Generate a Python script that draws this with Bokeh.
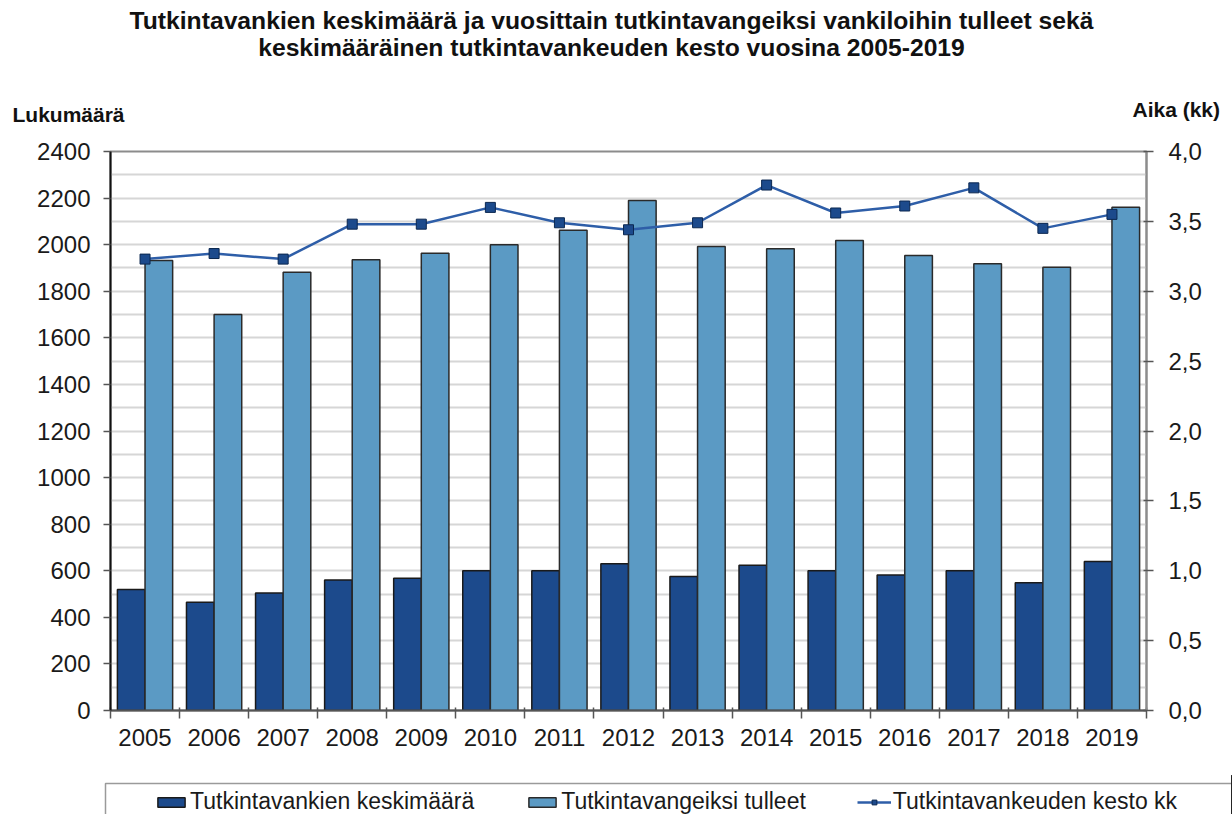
from bokeh.plotting import figure
from bokeh.layouts import column
from bokeh.models import (Range1d, LinearAxis, FixedTicker, SingleIntervalTicker, Plot,
                          CustomJSTickFormatter, Legend, LegendItem, ColumnDataSource)
from bokeh.transform import dodge
from bokeh.core.properties import value
from bokeh.embed import file_html
from bokeh.resources import INLINE

# ---- data ----
years = list(range(2005, 2020))
avg_remand = [520, 465, 504, 560, 568, 600, 600, 630, 575, 624, 600, 582, 600, 548, 640]
new_remand = [1932, 1700, 1882, 1935, 1963, 2000, 2062, 2190, 1992, 1982, 2018, 1954, 1918, 1903, 2161]
duration_kk = [3.23, 3.27, 3.23, 3.48, 3.48, 3.60, 3.49, 3.44, 3.49, 3.76, 3.56, 3.61, 3.74, 3.45, 3.55]
left_ticks = [0, 200, 400, 600, 800, 1000, 1200, 1400, 1600, 1800, 2000, 2200, 2400]
right_ticks = [0.0, 0.5, 1.0, 1.5, 2.0, 2.5, 3.0, 3.5, 4.0]
series_names = ["Tutkintavankien keskimäärä", "Tutkintavangeiksi tulleet", "Tutkintavankeuden kesto kk"]
title_lines = ["Tutkintavankien keskimäärä ja vuosittain tutkintavangeiksi vankiloihin tulleet sekä",
               "keskimääräinen tutkintavankeuden kesto vuosina 2005-2019"]
left_title = "Lukumäärä"
right_title = "Aika (kk)"

FONT = "Liberation Sans"
DARK = "#1c4a8c"
LIGHT = "#5b9ac4"
LINE = "#2e5ea8"
W = 1232
HAS_ALIGN = "frame_align" in Plot.properties()


def no_align(fig):
    if HAS_ALIGN:
        fig.frame_align = False


src = ColumnDataSource(dict(year=years, avg=avg_remand, new=new_remand, dur=duration_kk))

# ---------------- header (titles) ----------------
TOP_H = 126
top = figure(width=W, height=TOP_H, x_range=Range1d(0, W), y_range=Range1d(TOP_H, 0),
             x_axis_location=None, y_axis_location=None, output_backend="svg",
             toolbar_location=None, min_border=0)
no_align(top)
top.grid.visible = False
top.outline_line_color = None
top.text(x=[611, 611], y=[20, 47], text=title_lines, text_align="center",
         text_baseline="middle", text_font=value(FONT), text_font_size="24.7px",
         text_font_style="bold", text_color="#111111")
top.text(x=[12], y=[113.5], text=[left_title], text_align="left", text_baseline="middle",
         text_font=value(FONT), text_font_size="21px", text_font_style="bold", text_color="#111111")
top.text(x=[1132], y=[108.5], text=[right_title], text_align="left", text_baseline="middle",
         text_font=value(FONT), text_font_size="21px", text_font_style="bold", text_color="#111111")

# ---------------- main chart ----------------
MAIN_H = 775 - TOP_H
p = figure(width=W, height=MAIN_H,
           x_range=Range1d(years[0] - 0.5, years[-1] + 0.5),
           y_range=Range1d(left_ticks[0], left_ticks[-1]),
           output_backend="svg", toolbar_location=None,
           min_border_left=110, min_border_right=86, min_border_top=151 - TOP_H, min_border_bottom=65)
no_align(p)
p.outline_line_color = "#8c8c8c"
p.outline_line_width = 2

p.xgrid.visible = False
p.ygrid.ticker = SingleIntervalTicker(interval=100)
p.ygrid.grid_line_color = "#d6d6d6"
p.ygrid.grid_line_width = 2

xa = p.xaxis[0]
xa.ticker = FixedTicker(ticks=years, minor_ticks=[y - 0.5 for y in years] + [years[-1] + 0.5])
xa.major_tick_out = 0
xa.major_tick_in = 0
xa.minor_tick_out = 8
xa.minor_tick_in = 3
xa.minor_tick_line_color = "#555555"
xa.minor_tick_line_width = 1.5
xa.axis_line_color = "#555555"
xa.axis_line_width = 2
xa.major_label_text_font = FONT
xa.major_label_text_font_size = "24px"
xa.major_label_text_color = "#1a1a1a"
xa.major_label_standoff = 10

ya = p.yaxis[0]
ya.ticker = FixedTicker(ticks=left_ticks)
ya.major_tick_out = 7
ya.major_tick_in = 0
ya.major_tick_line_color = "#555555"
ya.major_tick_line_width = 1.5
ya.axis_line_color = "#111111"
ya.axis_line_width = 2
ya.major_label_text_font = FONT
ya.major_label_text_font_size = "24px"
ya.major_label_text_color = "#1a1a1a"
ya.major_label_standoff = 13

p.extra_y_ranges = {"kk": Range1d(right_ticks[0], right_ticks[-1])}
ra = LinearAxis(y_range_name="kk", ticker=FixedTicker(ticks=right_ticks),
                formatter=CustomJSTickFormatter(code="return tick.toFixed(1).replace('.', ',');"))
ra.major_tick_out = 7
ra.major_tick_in = 3
ra.major_tick_line_color = "#555555"
ra.major_tick_line_width = 1.5
ra.axis_line_color = "#8c8c8c"
ra.axis_line_width = 2
ra.major_label_text_font = FONT
ra.major_label_text_font_size = "24px"
ra.major_label_text_color = "#1a1a1a"
ra.major_label_standoff = 15
p.add_layout(ra, "right")

bar1 = dict(fill_color=DARK, line_color="#1a1a1a", line_width=1.5)
bar2 = dict(fill_color=LIGHT, line_color="#2a2a2a", line_width=1.5)
line_style = dict(line_color=LINE, line_width=2.5)
mark_style = dict(marker="square", size=10, fill_color=DARK, line_color="#0b2750", line_width=1)

p.vbar(x=dodge("year", -0.2, range=p.x_range), top="avg", bottom=0, width=0.4, source=src, **bar1)
p.vbar(x=dodge("year", 0.2, range=p.x_range), top="new", bottom=0, width=0.4, source=src, **bar2)
p.line("year", "dur", y_range_name="kk", source=src, **line_style)
p.scatter("year", "dur", y_range_name="kk", source=src, **mark_style)

# ---------------- legend strip ----------------
LG_H = 814 - 775
lg = figure(width=W, height=LG_H, x_range=Range1d(0, W), y_range=Range1d(LG_H, 0),
            x_axis_location=None, y_axis_location=None, output_backend="svg",
            toolbar_location=None, min_border=0)
no_align(lg)
lg.grid.visible = False
lg.outline_line_color = None
# legend box (runs past the visible strip, as in the reference)
lg.quad(left=[105], right=[1400], top=[8], bottom=[80], fill_color="white",
        line_color="#9a9a9a", line_width=1.5)
# legend-only renderers: same series, but their x (years) lie outside this strip's range
r1 = lg.vbar(x="year", top="avg", width=0.4, source=src, **bar1)
r2 = lg.vbar(x="year", top="new", width=0.4, source=src, **bar2)
r3 = lg.line(x="year", y="dur", source=src, **line_style)
r4 = lg.scatter(x="year", y="dur", source=src, **mark_style)
legend = Legend(items=[LegendItem(label=series_names[0], renderers=[r1]),
                       LegendItem(label=series_names[1], renderers=[r2]),
                       LegendItem(label=series_names[2], renderers=[r3, r4])],
                orientation="horizontal", location="top_left", margin=8,
                padding=5, spacing=51, glyph_width=34, glyph_height=12, label_standoff=2,
                label_text_font=FONT, label_text_font_size="23px", label_text_color="#1a1a1a",
                border_line_alpha=0, background_fill_alpha=0,
                title=" ", title_location="left", title_text_font_size="1px", title_standoff=140)
lg.add_layout(legend, "center")

layout = column(top, p, lg, spacing=0)
open("out.html", "w").write(file_html(layout, INLINE))
